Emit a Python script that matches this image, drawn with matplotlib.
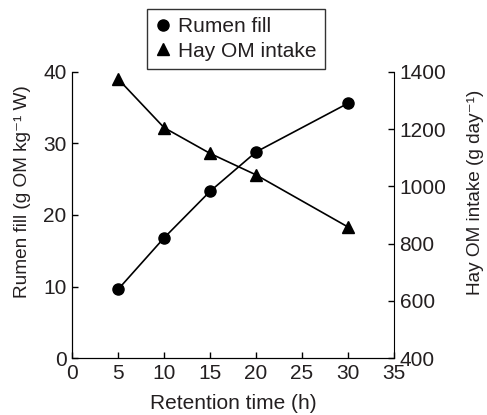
import matplotlib
matplotlib.use('Agg')
import matplotlib.pyplot as plt
from matplotlib.lines import Line2D

plt.rcParams['font.family'] = ['Liberation Sans', 'DejaVu Sans']
plt.rcParams['font.size'] = 15
ink = '#231f20'
plt.rcParams['text.color'] = ink
plt.rcParams['axes.labelcolor'] = ink
plt.rcParams['xtick.labelcolor'] = ink
plt.rcParams['ytick.labelcolor'] = ink

retention = [5, 10, 15, 20, 30]
rumen_fill = [9.6, 16.8, 23.3, 28.8, 35.6]
hay_intake = [1375, 1205, 1115, 1040, 858]

fig = plt.figure(figsize=(4.87, 4.15), dpi=100)
ax = fig.add_axes([0.148, 0.137, 0.661, 0.690])
ax2 = ax.twinx()

ax.plot(retention, rumen_fill, color='black', lw=1.2, marker='o', ms=8)
ax2.plot(retention, hay_intake, color='black', lw=1.2, marker='^', ms=8)

ax.set_xlim(0, 35)
ax.set_ylim(0, 40)
ax2.set_ylim(400, 1400)
ax.set_xticks(range(0, 36, 5))
ax.set_yticks(range(0, 41, 10))
ax2.set_yticks(range(400, 1401, 200))

for a in (ax, ax2):
    a.spines['top'].set_visible(False)
    a.tick_params(direction='in', length=4, width=1, labelsize=15, pad=4)
ax.spines['right'].set_visible(False)

ax.set_xlabel('Retention time (h)', labelpad=8)
ax.set_ylabel('Rumen fill (g OM kg⁻¹ W)', fontsize=13.7)
ax2.set_ylabel('Hay OM intake (g day⁻¹)', fontsize=13.7)
ax.yaxis.set_label_coords(-0.155, 0.58)
ax2.yaxis.set_label_coords(1.253, 0.58)
for lab in (ax.yaxis.label, ax2.yaxis.label):
    lab.set_horizontalalignment('center')
    lab.set_verticalalignment('center')

handles = [Line2D([], [], color='black', marker='o', ls='none', ms=8),
           Line2D([], [], color='black', marker='^', ls='none', ms=8)]
leg = fig.legend(handles, ['Rumen fill', 'Hay OM intake'], loc='upper left',
                 bbox_to_anchor=(0.302, 0.978), frameon=True, fancybox=False,
                 handlelength=0.7, handletextpad=0.4, borderpad=0.4,
                 labelspacing=0.25, fontsize=15, borderaxespad=0)
leg.get_frame().set_edgecolor('black')
leg.get_frame().set_linewidth(1)

fig.savefig('out.png', dpi=100)
